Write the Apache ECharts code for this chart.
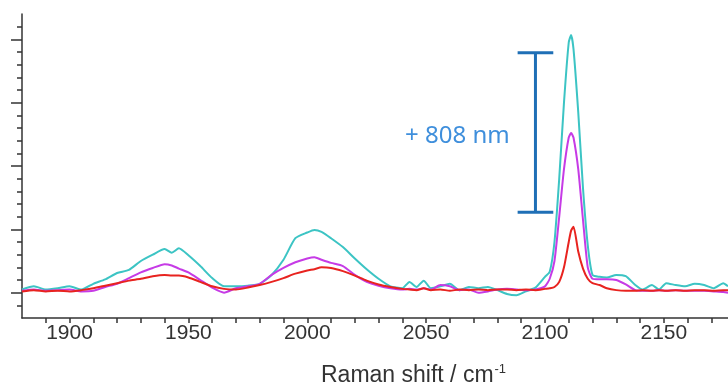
<!DOCTYPE html>
<html>
<head>
<meta charset="utf-8">
<script src="https://cdn.jsdelivr.net/npm/echarts@6/dist/echarts.min.js"></script>
<style>
  html, body { margin: 0; padding: 0; background: #fff; }
  #ramanChart { width: 728px; height: 389px; }
</style>
</head>
<body>
<div id="ramanChart"></div>
<script>
// Raman shift / cm-1 (shared sample positions)
var wavenumbers = [1880, 1885, 1890, 1895, 1900, 1905, 1910, 1915, 1920, 1925, 1930, 1935, 1940, 1943, 1946,
  1950, 1955, 1960, 1965, 1970, 1975, 1980, 1985, 1990, 1995, 2000, 2003, 2006, 2010, 2015, 2020, 2025, 2030,
  2035, 2040, 2043, 2046, 2049, 2052, 2056, 2060, 2064, 2068, 2072, 2076, 2080, 2084, 2088, 2092, 2096, 2100,
  2102, 2104, 2106, 2108, 2110, 2111, 2112, 2114, 2116, 2118, 2120, 2123, 2126, 2130, 2134, 2138, 2141, 2145,
  2148, 2151, 2155, 2159, 2163, 2167, 2171, 2175, 2177];

// intensities (arb. units, one unit = one major y tick)
var cyanValues = [0.05, 0.10, 0.05, 0.07, 0.10, 0.05, 0.14, 0.21, 0.31, 0.36, 0.50, 0.60, 0.69, 0.63, 0.70,
  0.59, 0.42, 0.23, 0.10, 0.10, 0.11, 0.14, 0.28, 0.52, 0.86, 0.95, 0.99, 0.96, 0.86, 0.72, 0.54, 0.37, 0.22,
  0.10, 0.07, 0.17, 0.09, 0.19, 0.07, 0.10, 0.14, 0.04, 0.09, 0.07, 0.09, 0.04, -0.02, -0.04, 0.02, 0.08, 0.25,
  0.33, 0.80, 1.80, 3.00, 3.95, 4.07, 3.85, 2.85, 1.65, 0.75, 0.28, 0.25, 0.24, 0.28, 0.26, 0.12, 0.05, 0.12,
  0.05, 0.15, 0.12, 0.10, 0.14, 0.12, 0.07, 0.15, 0.10];

var magentaValues = [0.03, 0.05, 0.03, 0.04, 0.05, 0.02, 0.03, 0.09, 0.14, 0.23, 0.32, 0.39, 0.45, 0.43, 0.38,
  0.32, 0.20, 0.08, 0.00, 0.07, 0.10, 0.14, 0.28, 0.39, 0.48, 0.54, 0.56, 0.52, 0.47, 0.42, 0.28, 0.17, 0.11,
  0.07, 0.05, 0.06, 0.05, 0.07, 0.05, 0.12, 0.10, 0.04, 0.05, 0.00, 0.02, 0.05, 0.06, 0.05, 0.04, 0.05, 0.10,
  0.22, 0.50, 1.20, 1.95, 2.45, 2.52, 2.45, 1.95, 1.15, 0.40, 0.22, 0.21, 0.21, 0.20, 0.13, 0.04, 0.03, 0.03,
  0.04, 0.03, 0.04, 0.03, 0.03, 0.03, 0.02, 0.01, 0.00];

var redValues = [0.02, 0.04, 0.02, 0.03, 0.02, 0.04, 0.07, 0.11, 0.15, 0.19, 0.22, 0.26, 0.28, 0.27, 0.27,
  0.24, 0.17, 0.10, 0.06, 0.05, 0.08, 0.12, 0.17, 0.23, 0.30, 0.35, 0.37, 0.40, 0.39, 0.34, 0.27, 0.19, 0.13,
  0.09, 0.06, 0.05, 0.04, 0.07, 0.04, 0.05, 0.03, 0.05, 0.04, 0.05, 0.04, 0.05, 0.05, 0.04, 0.05, 0.04, 0.06,
  0.07, 0.09, 0.17, 0.40, 0.80, 0.98, 1.04, 0.65, 0.38, 0.22, 0.15, 0.12, 0.07, 0.04, 0.03, 0.03, 0.04, 0.03,
  0.04, 0.03, 0.04, 0.03, 0.04, 0.04, 0.03, 0.04, 0.04];

// tick labels
var xLabels = [1900, 1950, 2000, 2050, 2100, 2150];
var yMajorTicks = [0, 1, 2, 3, 4];

// scale bar (data units)
var scaleBarX = 2096;
var scaleBarCapHalf = 7.5;
var scaleBarLow = 1.27;
var scaleBarHigh = 3.79;
var scaleBarText = '+ 808 nm';

function pairs(xs, ys) {
  return xs.map(function (x, i) { return [x, ys[i]]; });
}

var xMinorTicks = [];
for (var t = 1890; t <= 2170; t += 10) xMinorTicks.push(t);
var yMinorTicks = [];
for (var k = -1; k <= 21; k++) yMinorTicks.push(Math.round(k * 2) / 10);

var axisColor = '#333';
var textFont = 'Liberation Sans, Arial, sans-serif';

function spectrum(name, color, values) {
  return {
    name: name,
    type: 'line',
    data: pairs(wavenumbers, values),
    showSymbol: false,
    smooth: 0.2,
    lineStyle: { width: 2, color: color },
    z: 3
  };
}

function barSegment(a, b) {
  return {
    type: 'line',
    data: [a, b],
    showSymbol: false,
    silent: true,
    lineStyle: { width: 3, color: '#1f6fb6' },
    z: 4
  };
}

var chart = echarts.init(document.getElementById('ramanChart'));
chart.setOption({
  animation: false,
  backgroundColor: '#fff',
  grid: { left: 22, right: 0, top: 14, bottom: 71 },
  title: {
    text: '{a|Raman shift / cm}{b|-1}',
    left: 316,
    top: 358,
    textStyle: {
      rich: {
        a: { fontFamily: textFont, fontWeight: 'normal', fontSize: 23, color: '#333' },
        b: { fontFamily: textFont, fontWeight: 'normal', fontSize: 13, color: '#333', padding: [0, 0, 12, 1] }
      }
    }
  },
  graphic: [{
    type: 'text',
    left: 405,
    top: 124,
    style: {
      text: scaleBarText,
      font: '24px "Noto Sans", sans-serif',
      fill: '#3f8fdc'
    }
  }],
  xAxis: [{
    type: 'value',
    min: 1880,
    max: 2177,
    axisLine: { show: true, onZero: false, lineStyle: { color: axisColor, width: 1.5 } },
    axisTick: { show: true, inside: false, length: 5, customValues: xMinorTicks, lineStyle: { color: axisColor, width: 1.5 } },
    axisLabel: {
      customValues: xLabels,
      formatter: function (v) { return String(v); },
      margin: 5,
      fontSize: 21,
      fontFamily: textFont,
      color: '#333'
    },
    splitLine: { show: false }
  }],
  yAxis: [{
    type: 'value',
    min: -0.4,
    max: 4.4,
    axisLine: { show: true, onZero: false, lineStyle: { color: axisColor, width: 1.5 } },
    axisTick: { show: true, inside: false, length: 5, customValues: yMinorTicks, lineStyle: { color: axisColor, width: 1.5 } },
    axisLabel: { show: false },
    splitLine: { show: false }
  }, {
    type: 'value',
    position: 'left',
    min: -0.4,
    max: 4.4,
    axisLine: { show: false },
    axisTick: { show: true, inside: false, length: 11, customValues: yMajorTicks, lineStyle: { color: axisColor, width: 1.5 } },
    axisLabel: { show: false },
    splitLine: { show: false }
  }],
  series: [
    spectrum('cyan', '#3cc4c4', cyanValues),
    spectrum('magenta', '#c63be6', magentaValues),
    spectrum('red', '#e8231f', redValues),
    barSegment([scaleBarX, scaleBarLow], [scaleBarX, scaleBarHigh]),
    barSegment([scaleBarX - scaleBarCapHalf, scaleBarLow], [scaleBarX + scaleBarCapHalf, scaleBarLow]),
    barSegment([scaleBarX - scaleBarCapHalf, scaleBarHigh], [scaleBarX + scaleBarCapHalf, scaleBarHigh])
  ]
});
</script>
</body>
</html>
